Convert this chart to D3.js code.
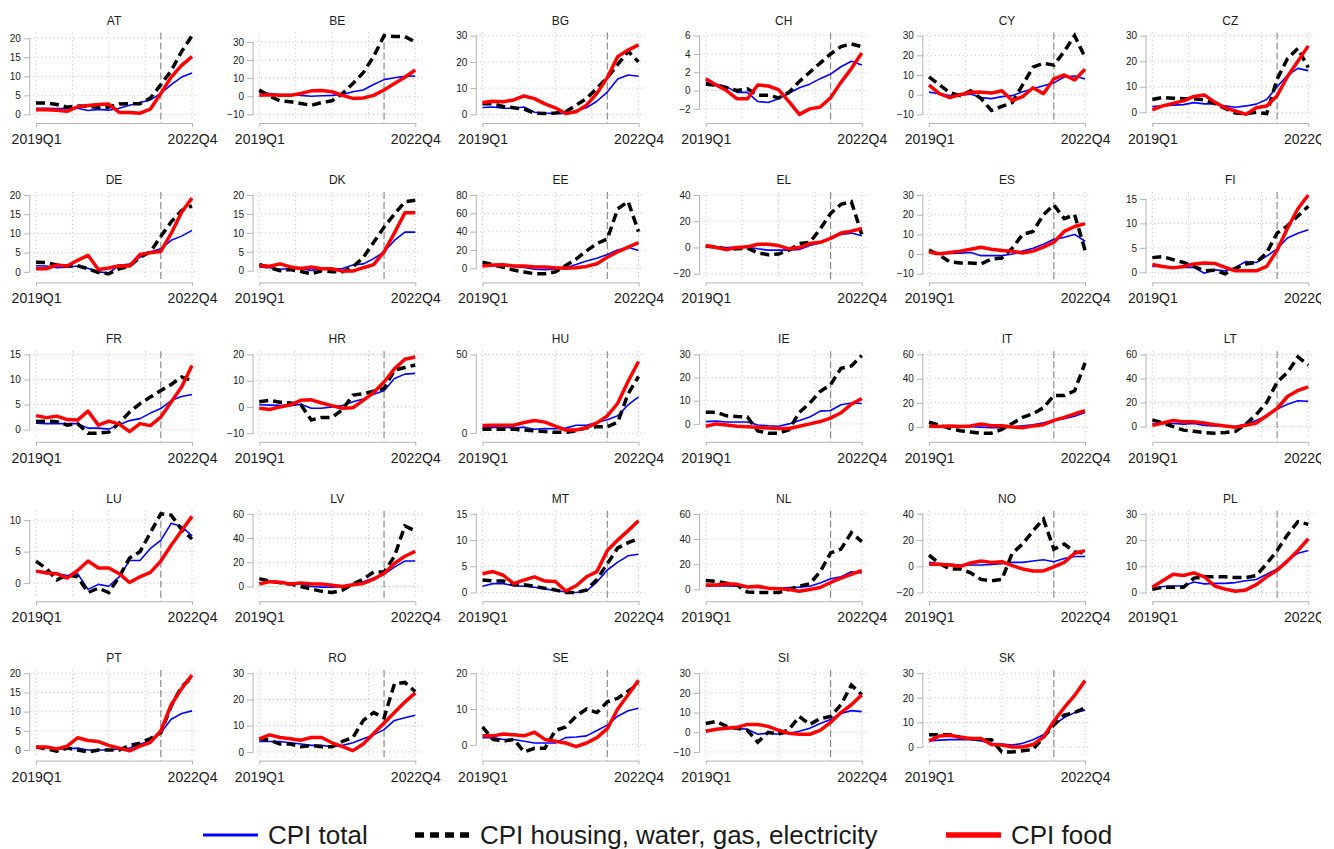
<!DOCTYPE html>
<html>
<head>
<meta charset="utf-8">
<script src="https://cdn.jsdelivr.net/npm/d3@7"></script>
<style>
  body { margin: 0; background: #fff; }
  text { font-family: "Liberation Sans", Arial, sans-serif; fill: #1a1a1a; }
</style>
</head>
<body>
<script>
// quarters on the x axis, only first and last get a label
var quarters = ["2019Q1","2019Q2","2019Q3","2019Q4","2020Q1","2020Q2","2020Q3","2020Q4",
                "2021Q1","2021Q2","2021Q3","2021Q4","2022Q1","2022Q2","2022Q3","2022Q4"];
var xTickLabels = ["2019Q1", "2022Q4"];
var markerQuarter = "2022Q1";

var countries = ["AT","BE","BG","CH","CY","CZ","DE","DK","EE","EL","ES","FI","FR","HR","HU",
                 "IE","IT","LT","LU","LV","MT","NL","NO","PL","PT","RO","SE","SI","SK"];

var yTicks = [
  [0,5,10,15,20], [-10,0,10,20,30], [0,10,20,30], [-2,0,2,4,6], [-10,0,10,20,30], [0,10,20,30],
  [0,5,10,15,20], [0,5,10,15,20], [0,20,40,60,80], [-20,0,20,40], [-10,0,10,20,30], [0,5,10,15],
  [0,5,10,15], [-10,0,10,20], [0,50], [0,10,20,30], [0,20,40,60], [0,20,40,60],
  [0,5,10], [0,20,40,60], [0,5,10,15], [0,20,40,60], [-20,0,20,40], [0,10,20,30],
  [0,5,10,15,20], [0,10,20,30], [0,10,20], [-10,0,10,20,30], [0,10,20,30]
];

// CPI total, y-o-y %
var cpiTotal = [
  [1.6,1.6,1.5,1.5,1.6,1.0,1.3,1.1,1.6,2.4,3.1,3.8,5.5,7.8,9.8,10.9],        // AT
  [2.0,1.5,1.0,1.0,0.5,0.0,0.3,0.5,1.0,2.5,3.5,6.5,9.2,10.2,11.0,11.2],      // BE
  [2.6,2.8,2.3,2.3,2.8,0.8,0.5,0.3,0.3,1.5,2.5,5.0,8.5,13.5,15.0,14.5],      // BG
  [0.9,0.7,0.4,-0.2,-0.2,-1.2,-1.3,-0.9,-0.3,0.3,0.7,1.3,1.8,2.6,3.2,2.8],   // CH
  [1.3,0.5,-0.5,-0.3,0.3,-1.5,-2.0,-1.0,-0.5,1.5,3.0,4.5,6.0,9.0,9.5,8.0],   // CY
  [2.3,2.5,2.8,3.0,3.8,3.3,3.3,2.5,2.0,2.5,3.2,5.0,10.0,14.5,17.2,16.3],     // CZ
  [1.6,1.5,1.1,1.2,1.5,0.9,0.0,-0.3,1.7,2.0,3.8,5.2,6.0,8.2,9.3,10.8],       // DE
  [1.0,0.8,0.4,0.6,0.6,0.1,0.5,0.5,0.6,1.5,1.8,3.2,5.0,8.0,10.2,10.2],       // DK
  [2.3,3.0,2.5,2.0,1.0,-1.0,-1.5,-1.0,0.5,4.0,8.0,11.0,15.0,20.0,23.0,19.5], // EE
  [1.0,0.3,0.0,0.3,0.2,-1.0,-2.0,-2.0,-2.0,-1.5,1.5,3.5,7.0,10.0,11.0,9.0],  // EL
  [1.2,0.5,0.3,0.5,0.8,-0.8,-0.8,-0.8,0.0,1.5,3.0,5.0,7.5,8.5,10.0,6.5],     // ES
  [1.2,1.2,1.0,1.0,1.0,-0.2,0.5,0.3,1.0,2.2,2.0,3.3,4.8,7.0,8.0,8.7],        // FI
  [1.3,1.2,1.2,1.2,1.2,0.3,0.3,0.1,1.0,1.8,2.2,3.3,4.2,5.8,6.6,7.0],         // FR
  [0.8,0.7,0.6,0.5,1.0,-0.5,-0.5,0.0,0.5,2.0,3.0,4.8,6.2,10.8,12.5,12.8],    // HR
  [3.2,3.6,3.8,3.2,3.8,2.5,3.0,2.8,3.2,5.0,5.0,6.8,8.5,11.0,18.0,23.0],      // HU
  [1.0,1.2,0.8,0.8,0.8,-0.5,-0.8,-1.0,0.0,1.5,3.0,5.5,5.8,8.3,9.0,8.8],      // IE
  [1.0,0.8,0.5,0.3,0.3,0.0,-0.5,-0.5,0.0,1.0,2.0,3.5,5.5,7.0,9.0,12.0],      // IT
  [2.5,2.5,2.5,2.0,2.5,1.0,0.5,0.2,0.0,2.0,5.0,9.0,14.5,18.5,21.5,21.0],     // LT
  [2.0,1.8,1.5,1.2,1.5,-1.0,-0.2,-0.5,1.0,3.6,3.6,5.5,6.8,9.5,9.0,7.5],      // LU
  [3.0,3.5,3.5,2.8,2.0,0.0,-0.5,-0.5,0.0,1.5,4.0,7.0,10.0,16.0,21.0,21.0],   // LV
  [1.2,1.7,1.7,1.3,1.2,1.0,0.7,0.4,0.1,0.0,0.3,2.0,4.3,5.8,7.0,7.3],         // MT
  [2.8,2.8,2.8,2.5,1.5,1.5,1.2,1.0,1.5,1.8,2.5,5.0,8.5,10.0,14.0,13.0],      // NL
  [3.0,2.0,1.5,1.0,1.0,1.0,1.5,2.0,3.0,3.0,4.0,5.0,3.5,6.0,7.5,7.5],         // NO
  [1.5,2.3,2.5,2.5,4.0,3.3,3.5,3.5,3.8,4.5,5.0,7.0,9.0,12.5,15.0,16.0],      // PL
  [0.8,0.7,0.3,0.3,0.5,0.0,0.0,0.0,0.3,0.5,1.5,2.5,4.5,8.0,9.5,10.2],        // PT
  [4.0,4.0,4.0,3.5,3.0,2.5,2.5,2.0,2.5,3.5,5.0,6.5,8.5,12.0,13.0,14.0],      // RO
  [2.0,2.0,1.5,1.5,1.0,0.5,0.5,0.5,2.0,2.2,2.5,4.0,5.5,8.0,9.5,10.2],        // SE
  [1.0,1.5,2.0,2.0,1.5,-1.0,-0.5,-1.0,-0.5,0.5,2.0,4.5,6.5,9.5,11.0,10.5],   // SI
  [2.5,2.8,3.0,3.0,3.0,2.5,1.5,1.2,0.8,1.5,3.0,5.0,9.0,12.0,14.0,15.0]       // SK
];

// CPI housing, water, gas, electricity
var cpiHousing = [
  [3.0,3.0,2.6,1.9,2.2,2.1,1.8,1.9,2.7,2.8,2.8,4.3,7.8,11.5,16.5,20.7],
  [3.5,0.0,-2.5,-3.0,-4.0,-5.0,-3.5,-2.5,1.5,7.0,13.0,22.0,33.5,33.0,33.0,30.0],
  [4.0,4.0,3.0,2.5,2.0,0.5,0.3,0.5,1.0,3.5,6.0,10.0,14.0,19.0,24.0,20.0],
  [0.7,0.6,0.3,0.0,0.2,-0.5,-0.5,-0.8,-0.2,1.0,2.0,3.0,4.0,4.8,5.1,4.8],
  [9.0,5.0,1.0,-0.5,2.0,-2.0,-8.0,-6.0,-4.0,5.0,14.0,16.0,15.0,22.0,30.0,19.0],
  [5.0,5.8,5.5,5.3,5.3,4.8,3.5,1.5,-0.3,-0.5,0.0,-0.5,13.0,21.0,25.0,17.5],
  [2.5,2.4,1.8,1.5,1.6,0.8,-0.2,-0.5,0.8,1.5,3.8,5.2,9.2,13.0,16.0,17.2],
  [1.7,0.8,0.0,0.3,-0.2,-0.8,0.0,-0.3,-0.3,1.0,3.5,7.5,11.5,15.0,18.2,18.6],
  [6.5,4.0,1.0,-2.0,-4.0,-6.0,-6.0,-4.0,3.0,10.0,19.0,27.0,32.0,65.0,73.0,40.0],
  [1.0,0.5,-1.5,-1.0,-0.5,-4.0,-5.5,-5.0,-2.0,3.0,4.0,14.0,26.0,33.0,35.0,10.0],
  [2.0,-0.5,-4.0,-4.5,-4.5,-5.0,-2.5,-2.0,3.0,10.0,11.5,20.0,25.0,18.0,20.0,2.0],
  [3.0,3.2,2.6,2.0,1.2,0.3,0.4,-0.3,0.8,1.7,2.0,4.0,8.0,9.5,11.5,13.5],
  [1.6,1.7,1.6,0.9,1.2,-0.7,-0.7,-0.5,1.3,3.5,5.2,6.5,7.8,9.0,10.5,9.8],
  [2.0,2.5,1.8,1.5,0.8,-5.0,-4.0,-4.0,-1.0,4.5,5.0,6.0,7.0,14.0,15.0,16.0],
  [2.5,2.5,2.5,2.5,2.0,1.5,1.0,0.5,0.5,1.5,3.5,4.0,4.0,7.0,25.0,36.0],
  [5.0,5.0,3.5,3.2,3.0,-3.0,-4.0,-4.0,-2.5,5.0,9.0,14.0,17.0,24.0,25.0,29.5],
  [4.0,1.5,-1.0,-3.0,-4.0,-5.0,-5.0,-2.0,3.0,8.0,11.0,16.0,26.0,26.0,30.0,53.0],
  [5.5,3.0,0.0,-3.0,-4.0,-5.0,-5.5,-5.0,-4.0,2.0,10.0,20.0,37.0,45.0,58.0,51.0],
  [3.5,2.3,0.5,1.3,1.0,-1.5,-0.8,-1.5,1.0,4.0,5.0,8.0,11.0,10.8,8.5,7.0],
  [6.5,4.5,3.0,2.0,0.0,-2.0,-4.0,-5.0,-3.0,2.0,6.0,12.0,12.0,25.0,50.0,46.0],
  [2.4,2.2,2.2,1.5,1.5,1.2,0.8,0.5,0.0,0.0,0.5,2.5,5.5,8.5,9.5,10.3],
  [7.0,6.5,5.0,3.5,-2.0,-2.5,-2.5,-2.5,0.0,2.5,4.5,14.0,29.0,32.0,45.0,38.0],
  [8.5,2.0,-2.0,-2.0,-5.0,-10.0,-11.0,-10.0,10.0,17.0,27.0,36.0,13.0,17.0,11.0,10.0],
  [1.2,2.0,2.0,2.0,5.5,6.0,6.0,6.0,5.7,5.7,6.5,11.0,16.0,22.0,27.0,26.0],
  [0.8,0.3,-0.3,0.5,0.0,-0.5,0.0,0.0,0.0,1.2,1.8,3.0,4.5,11.5,16.5,19.0],
  [5.0,4.5,3.0,3.0,2.0,2.5,2.0,2.0,4.0,5.5,12.0,15.0,13.0,26.0,26.5,23.0],
  [5.0,1.5,1.0,1.5,-2.0,-1.0,-1.0,4.0,5.0,8.0,10.0,9.0,12.0,13.0,15.0,17.0],
  [4.5,5.5,3.0,2.0,1.0,-5.0,0.0,-1.0,1.5,8.0,4.0,7.0,8.0,14.0,24.0,19.0],
  [5.0,5.0,5.0,4.0,3.5,3.0,3.0,-2.0,-2.0,-1.5,-1.0,4.0,9.0,13.0,14.0,16.0]
];

// CPI food
var cpiFood = [
  [1.2,1.2,1.1,0.8,2.0,2.3,2.6,2.7,0.5,0.5,0.3,1.4,5.5,9.8,12.9,15.2],
  [0.5,0.8,0.5,0.5,1.5,3.0,3.2,2.5,0.5,-1.2,-1.0,0.5,3.5,7.0,10.5,14.5],
  [4.5,5.0,4.8,5.5,7.0,6.0,4.0,2.5,0.3,1.0,3.5,8.0,14.0,22.0,24.5,26.5],
  [1.3,0.6,0.0,-0.9,-0.9,0.6,0.5,0.1,-1.2,-2.6,-2.0,-1.8,-0.8,0.9,2.4,4.1],
  [4.8,0.5,-1.5,0.0,1.2,1.3,0.8,2.0,-3.0,-1.0,3.5,0.5,8.0,10.0,7.5,13.0],
  [1.0,2.5,3.5,4.5,6.2,6.8,4.0,1.8,0.5,-0.8,1.8,2.5,6.5,14.0,20.0,26.0],
  [0.8,0.8,1.8,1.5,3.0,4.3,0.6,1.0,1.6,1.5,4.5,5.0,5.3,10.0,15.5,19.2],
  [1.3,1.2,1.8,1.0,0.6,1.0,0.5,0.5,-0.1,-0.1,0.8,1.6,5.0,10.0,15.3,15.3],
  [2.5,3.5,3.8,2.5,2.5,1.5,1.5,0.5,0.0,0.5,2.0,5.0,12.0,18.0,23.0,28.0],
  [1.5,0.0,-1.5,0.0,0.5,2.5,2.5,1.5,-1.0,0.0,3.0,4.0,7.0,11.0,12.5,14.5],
  [1.0,0.2,0.8,1.5,2.5,3.5,2.5,1.8,1.5,0.5,1.5,3.5,6.0,11.5,14.0,15.5],
  [1.6,1.2,0.9,1.2,1.7,1.9,1.8,1.0,0.3,0.3,0.3,1.2,4.5,9.0,13.0,15.8],
  [2.8,2.4,2.7,2.0,1.9,3.7,0.9,1.7,1.1,-0.4,1.2,0.8,2.5,5.5,8.5,12.8],
  [-0.5,-1.0,0.0,0.8,2.5,2.7,1.5,0.5,-0.5,-0.3,2.5,5.5,9.5,14.5,18.2,19.0],
  [4.8,5.0,5.0,5.0,6.8,8.0,7.0,4.5,2.0,2.0,3.5,6.5,11.0,19.0,33.0,45.5],
  [-1.0,0.0,-0.5,-1.0,-1.2,-1.5,-1.8,-2.0,-2.0,-1.0,0.0,1.0,2.5,4.8,8.5,11.0],
  [0.8,0.5,1.0,0.5,1.0,2.5,1.2,1.2,0.0,-0.5,1.0,2.0,5.5,8.0,11.0,13.5],
  [1.0,3.0,5.0,4.0,4.0,3.0,1.5,0.5,-0.5,1.0,3.0,9.0,15.0,25.0,30.0,33.0],
  [1.9,1.6,1.5,0.8,2.0,3.5,2.4,2.4,1.5,0.1,1.0,1.7,3.5,6.0,8.3,10.6],
  [2.0,4.0,3.5,2.0,3.0,2.0,2.0,1.0,0.0,1.5,2.5,6.0,11.0,19.0,25.0,29.0],
  [3.6,4.0,3.3,1.7,2.4,3.0,2.2,2.1,0.3,1.3,3.0,4.0,8.0,10.0,11.8,13.7],
  [3.5,3.5,4.5,4.0,2.0,2.5,1.0,0.5,0.0,-1.5,0.0,1.5,5.5,9.0,12.0,15.0],
  [1.5,1.5,1.0,0.0,2.5,4.0,3.0,3.5,0.5,-2.0,-3.5,-3.5,-0.5,3.0,10.0,12.0],
  [2.0,4.5,7.0,6.5,7.5,6.0,2.5,1.3,0.5,1.0,3.0,6.0,8.5,12.0,16.0,20.5],
  [0.8,0.8,0.3,1.0,3.2,2.5,2.2,1.2,0.5,-0.2,1.0,2.0,5.0,11.8,16.0,19.5],
  [5.0,6.5,5.5,5.0,4.5,5.5,5.5,3.5,2.0,0.5,3.0,7.0,11.0,15.0,19.0,22.5],
  [2.5,2.5,3.0,2.8,2.5,3.5,1.5,1.0,0.5,-0.5,0.5,2.0,4.5,10.0,14.0,18.0],
  [0.5,1.5,2.0,2.5,4.0,4.0,3.0,1.0,-0.5,-1.0,-1.0,1.0,5.0,10.0,14.0,19.0],
  [2.5,4.5,4.8,4.0,3.5,3.5,1.0,0.8,0.0,0.0,1.0,4.0,10.5,16.0,21.0,27.0]
];

var seriesNames = ["CPI total", "CPI housing, water, gas, electricity", "CPI food"];

var width = 1334, height = 849;
var colPitch = 223.26, rowPitch = 159.4,
    dataX0 = 36, dataW = 156,
    padX = dataW * 0.04,
    plotTop = 32.5, plotBottom = 117.5, axisY = 123;
var gridAt = [0, 3.5, 7, 10.5, 15];

var svg = d3.select("body").append("svg")
    .attr("width", width)
    .attr("height", height);

// the original figure cuts off at its right border
svg.append("clipPath").attr("id", "fig")
    .append("rect").attr("x", 0).attr("y", 0).attr("width", 1321).attr("height", height);
var panels = svg.append("g").attr("clip-path", "url(#fig)");

var x = d3.scaleLinear().domain([0, quarters.length - 1]).range([dataX0, dataX0 + dataW]);

countries.forEach(function (c, k) {
    var col = k % 6, row = Math.floor(k / 6);
    var g = panels.append("g")
        .attr("transform", "translate(" + (col * colPitch) + "," + (row * rowPitch) + ")");

    var ticks = yTicks[k];
    var all = cpiTotal[k].concat(cpiHousing[k], cpiFood[k], [ticks[0], ticks[ticks.length - 1]]);
    var lo = d3.min(all), hi = d3.max(all), pad = (hi - lo) * 0.04;
    var y = d3.scaleLinear().domain([lo - pad, hi + pad]).range([plotBottom, plotTop]);

    // dotted grid
    g.append("g").selectAll("line").data(ticks).enter().append("line")
        .attr("x1", dataX0 - padX).attr("x2", dataX0 + dataW + padX)
        .attr("y1", function (d) { return y(d); }).attr("y2", function (d) { return y(d); })
        .attr("stroke", "#bdbdbd").attr("stroke-width", 1).attr("stroke-dasharray", "1,3");
    g.append("g").selectAll("line").data(gridAt).enter().append("line")
        .attr("x1", function (d) { return x(d); }).attr("x2", function (d) { return x(d); })
        .attr("y1", plotTop).attr("y2", plotBottom)
        .attr("stroke", "#bdbdbd").attr("stroke-width", 1).attr("stroke-dasharray", "1,3");

    // 2022Q1 marker
    var mi = quarters.indexOf(markerQuarter);
    g.append("line")
        .attr("x1", x(mi)).attr("x2", x(mi))
        .attr("y1", plotTop).attr("y2", axisY)
        .attr("stroke", "#8c8c8c").attr("stroke-width", 1.2).attr("stroke-dasharray", "7,3");

    // y axis
    var ya = g.append("g")
        .attr("transform", "translate(" + (dataX0 - padX) + ",0)")
        .call(d3.axisLeft(y).tickValues(ticks).tickSize(6).tickPadding(3));
    ya.select(".domain").remove();
    ya.append("line")
        .attr("y1", y(ticks[0])).attr("y2", y(ticks[ticks.length - 1]))
        .attr("stroke", "#b4b4b4");
    ya.selectAll(".tick line").attr("stroke", "#b4b4b4");
    ya.selectAll(".tick text").attr("font-size", 10).style("font-family", "Liberation Sans, Arial, sans-serif").attr("fill", "#1a1a1a");

    // x axis
    var xa = g.append("g")
        .attr("transform", "translate(0," + axisY + ")")
        .call(d3.axisBottom(x)
            .tickValues(xTickLabels.map(function (q) { return quarters.indexOf(q); }))
            .tickFormat(function (i) { return quarters[i]; })
            .tickSize(4).tickSizeOuter(0).tickPadding(7));
    xa.select(".domain").attr("stroke", "#b4b4b4");
    xa.selectAll(".tick line").attr("stroke", "#b4b4b4");
    xa.selectAll(".tick text").attr("font-size", 14).style("font-family", "Liberation Sans, Arial, sans-serif").attr("fill", "#1a1a1a");

    // title
    g.append("text")
        .attr("x", dataX0 + dataW / 2).attr("y", 24.5)
        .attr("text-anchor", "middle").attr("font-size", 12)
        .text(c);

    var line = d3.line()
        .x(function (d, i) { return x(i); })
        .y(function (d) { return y(d); });

    g.append("path").attr("d", line(cpiTotal[k]))
        .attr("fill", "none").attr("stroke", "#0000ff").attr("stroke-width", 1.6)
        .attr("stroke-linejoin", "round");
    g.append("path").attr("d", line(cpiHousing[k]))
        .attr("fill", "none").attr("stroke", "#000").attr("stroke-width", 3.5)
        .attr("stroke-dasharray", "9,5");
    g.append("path").attr("d", line(cpiFood[k]))
        .attr("fill", "none").attr("stroke", "#ff0000").attr("stroke-width", 3.5)
        .attr("stroke-linejoin", "round");
});

// legend
var legend = [
    {x: 203, color: "#0000ff", w: 3, dash: null},
    {x: 415, color: "#000", w: 5.5, dash: "9,6"},
    {x: 946, color: "#ff0000", w: 5.5, dash: null}
];
var lg = svg.append("g").attr("transform", "translate(0,835)");
legend.forEach(function (d, i) {
    lg.append("line")
        .attr("x1", d.x).attr("x2", d.x + 55)
        .attr("stroke", d.color).attr("stroke-width", d.w)
        .attr("stroke-dasharray", d.dash);
    lg.append("text")
        .attr("x", d.x + 65).attr("y", 9)
        .attr("font-size", 26)
        .text(seriesNames[i]);
});
</script>
</body>
</html>
